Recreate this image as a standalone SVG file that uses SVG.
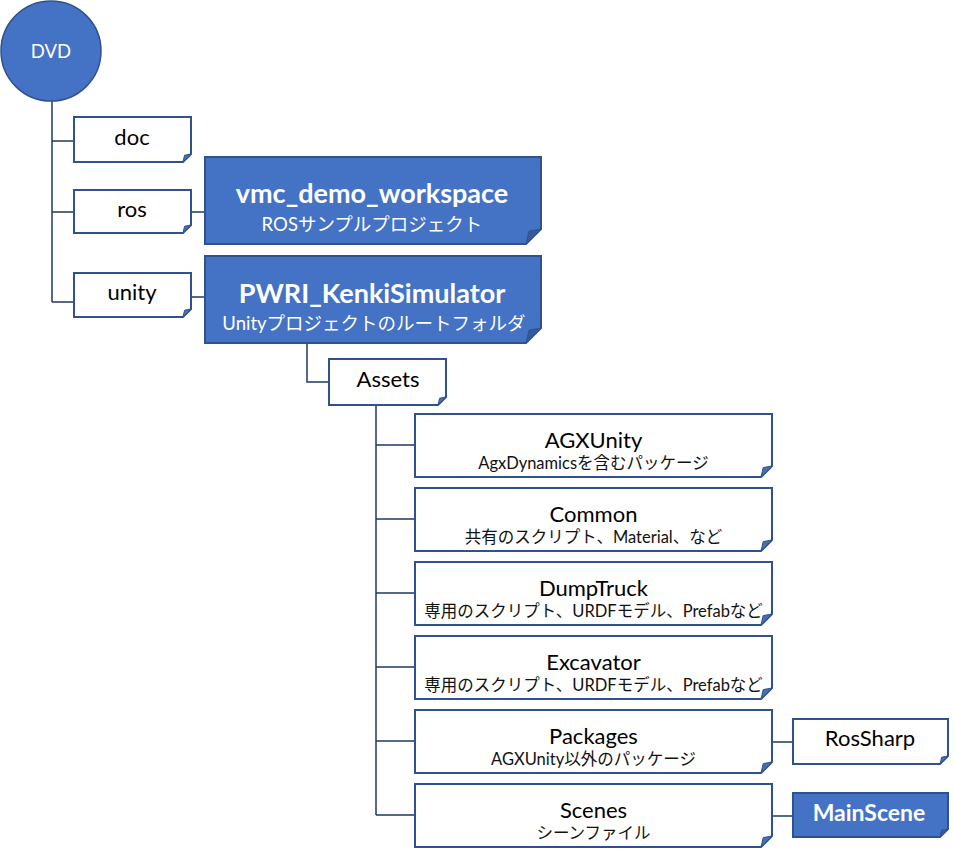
<svg xmlns="http://www.w3.org/2000/svg" width="954" height="854" viewBox="0 0 954 854">
<defs>
<style>
.wb{fill:#ffffff;stroke:#2F528F;stroke-width:2}
.bb{fill:#4472C4;stroke:#2F528F;stroke-width:2}
.wf{fill:#4A6DAE;stroke:#2F528F;stroke-width:1}
.bf{fill:#36599A;stroke:#2F528F;stroke-width:1}
.cn{fill:none;stroke:#1F3864;stroke-width:1.5}
text{font-family:Lato,"Noto Sans CJK JP","Noto Sans",sans-serif;text-anchor:middle}
.t{font-size:22px;fill:#000}
.s{font-size:16.5px;fill:#111}
.bt{font-size:27px;font-weight:bold;fill:#fff}
.bs{font-size:18.5px;fill:#fff}
</style>
<path id="big" d="M0,0 H357 V52 L346,63 H0 Z"/>
<path id="bigf" d="M346,63 L348.2,53.6 L357,52 Z"/>
</defs>
<rect width="954" height="854" fill="#fff"/>
<g id="connectors">
<path class="cn" d="M52,101 V302 M52,141 H74 M52,212 H74 M52,302 H74"/>
<path class="cn" d="M191,212 H205 M191,297 H205"/>
<path class="cn" d="M307,343 V382 H329"/>
<path class="cn" d="M376,405 V815 M376,445 H415 M376,519 H415 M376,593 H415 M376,667 H415 M376,741 H415 M376,815 H415"/>
<path class="cn" d="M772,742 H793 M772,816 H793"/>
</g>
<g id="dvd">
<circle cx="51" cy="51" r="50" fill="#4472C4" stroke="#2F528F" stroke-width="1.5"/>
<text x="51" y="58" style="font-size:18.5px;fill:#fff">DVD</text>
</g>
<g id="doc">
<path class="wb" d="M74,117 H191 V154 L183,162 H74 Z"/>
<path class="wf" d="M183,162 L184.6,155.2 L191,154 Z"/>
<text class="t" x="132" y="145">doc</text>
</g>
<g id="ros">
<path class="wb" d="M74,190 H191 V225 L183,233 H74 Z"/>
<path class="wf" d="M183,233 L184.6,226.2 L191,225 Z"/>
<text class="t" x="132" y="217">ros</text>
</g>
<g id="unity">
<path class="wb" d="M74,273 H191 V309 L183,317 H74 Z"/>
<path class="wf" d="M183,317 L184.6,310.2 L191,309 Z"/>
<text class="t" x="132" y="300">unity</text>
</g>
<g id="vmc_demo_workspace">
<path class="bb" d="M205,157 H541 V229 L526,244 H205 Z"/>
<path class="bf" d="M526,244 L529,231.2 L541,229 Z"/>
<text class="bt" x="372" y="203">vmc_demo_workspace</text>
<text class="bs" x="372" y="231">ROSサンプルプロジェクト</text>
</g>
<g id="PWRI_KenkiSimulator">
<path class="bb" d="M205,256 H541 V328 L526,343 H205 Z"/>
<path class="bf" d="M526,343 L529,330.2 L541,328 Z"/>
<text class="bt" x="372" y="303">PWRI_KenkiSimulator</text>
<text class="bs" x="374" y="330">Unityプロジェクトのルートフォルダ</text>
</g>
<g id="assets">
<path class="wb" d="M329,359 H446 V397 L438,405 H329 Z"/>
<path class="wf" d="M438,405 L439.6,398.2 L446,397 Z"/>
<text class="t" x="388" y="387">Assets</text>
</g>
<g id="agxunity" transform="translate(415,414)">
<use href="#big" class="wb"/><use href="#bigf" class="wf"/>
<text class="t" x="178.5" y="34">AGXUnity</text>
<text class="s" x="178.5" y="55">AgxDynamicsを含むパッケージ</text>
</g>
<g id="common" transform="translate(415,488)">
<use href="#big" class="wb"/><use href="#bigf" class="wf"/>
<text class="t" x="178.5" y="34">Common</text>
<text class="s" x="178.5" y="55">共有のスクリプト、Material、など</text>
</g>
<g id="dumptruck" transform="translate(415,562)">
<use href="#big" class="wb"/><use href="#bigf" class="wf"/>
<text class="t" x="178.5" y="34">DumpTruck</text>
<text class="s" x="178.5" y="55">専用のスクリプト、URDFモデル、Prefabなど</text>
</g>
<g id="excavator" transform="translate(415,636)">
<use href="#big" class="wb"/><use href="#bigf" class="wf"/>
<text class="t" x="178.5" y="34">Excavator</text>
<text class="s" x="178.5" y="55">専用のスクリプト、URDFモデル、Prefabなど</text>
</g>
<g id="packages" transform="translate(415,710)">
<use href="#big" class="wb"/><use href="#bigf" class="wf"/>
<text class="t" x="178.5" y="34">Packages</text>
<text class="s" x="178.5" y="55">AGXUnity以外のパッケージ</text>
</g>
<g id="scenes" transform="translate(415,784)">
<use href="#big" class="wb"/><use href="#bigf" class="wf"/>
<text class="t" x="178.5" y="34">Scenes</text>
<text class="s" x="178.5" y="55">シーンファイル</text>
</g>
<g id="rossharp">
<path class="wb" d="M793,719 H948 V756 L940,764 H793 Z"/>
<path class="wf" d="M940,764 L941.6,757.2 L948,756 Z"/>
<text class="t" x="870" y="746">RosSharp</text>
</g>
<g id="mainscene">
<path class="bb" d="M793,793 H948 V829 L940,837 H793 Z"/>
<path class="bf" d="M940,837 L941.6,830.2 L948,829 Z"/>
<text x="869" y="821" style="font-size:23px;font-weight:bold;fill:#fff">MainScene</text>
</g>
</svg>
